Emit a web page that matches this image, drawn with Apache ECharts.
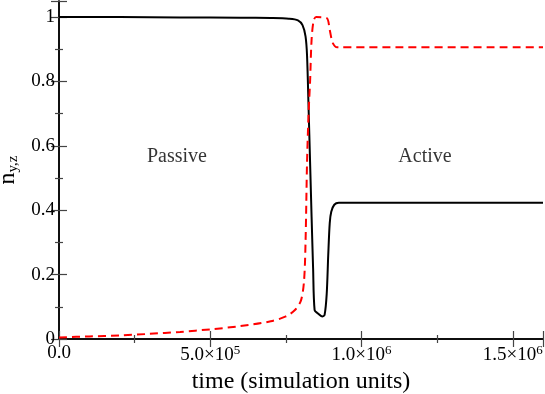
<!DOCTYPE html>
<html>
<head>
<meta charset="utf-8">
<script src="https://cdn.jsdelivr.net/npm/echarts@6/dist/echarts.min.js"></script>
<style>
html, body { margin: 0; padding: 0; background: #fff; }
#container { width: 545px; height: 394px; }
</style>
</head>
<body>
<div id="container"></div>
<script>
// black: n_y, red dashed: n_z
var timeY = [0, 2e5, 4e5, 6e5, 7e5, 7.6e5, 7.9e5, 8.05e5, 8.15e5, 8.2e5, 8.25e5, 8.3e5, 8.35e5, 8.4e5, 8.45e5, 8.55e5, 8.7e5, 8.78e5, 8.85e5, 8.9e5, 8.95e5, 9.0e5, 9.1e5, 9.25e5, 1.6e6];
var valY  = [1.0, 1.0, 0.999, 0.998, 0.997, 0.995, 0.99, 0.975, 0.94, 0.88, 0.72, 0.55, 0.38, 0.22, 0.09, 0.08, 0.07, 0.075, 0.14, 0.26, 0.36, 0.395, 0.417, 0.423, 0.423];
var timeZ = [0, 1e5, 2e5, 3e5, 4e5, 5e5, 6e5, 7e5, 7.5e5, 7.8e5, 8.0e5, 8.1e5, 8.15e5, 8.2e5, 8.25e5, 8.3e5, 8.35e5, 8.42e5, 8.5e5, 8.85e5, 8.95e5, 9.05e5, 9.2e5, 1.6e6];
var valZ  = [0.005, 0.008, 0.011, 0.016, 0.022, 0.03, 0.04, 0.055, 0.07, 0.09, 0.12, 0.18, 0.3, 0.55, 0.7, 0.8, 0.93, 0.99, 1.0, 0.997, 0.96, 0.92, 0.906, 0.906];
var labels = [{x: 3.9e5, y: 0.565, text: 'Passive'}, {x: 12.1e5, y: 0.565, text: 'Active'}];

function pairs(xs, ys) {
  return xs.map(function (x, i) { return [x, ys[i]]; });
}

var font = 'Liberation Serif';
var chart = echarts.init(document.getElementById('container'));

function xLabel(v) {
  if (v === 0) return '0.0';
  var e = Math.floor(Math.log10(v) + 1e-9);
  var m = (v / Math.pow(10, e)).toFixed(1);
  return m + '×10{sup|' + e + '}';
}

var axisCommon = {
  axisLine: { lineStyle: { color: '#000', width: 1.5 } },
  axisTick: { inside: true, length: 8, lineStyle: { color: '#444', width: 1.2 } },
  minorTick: { show: true, splitNumber: 2, length: 4, lineStyle: { color: '#444', width: 1.2 } },
  splitLine: { show: false }
};

chart.setOption({
  animation: false,
  grid: { left: 59, right: 2, top: 1, bottom: 55, containLabel: false, outerBoundsMode: 'none' },
  xAxis: [
    Object.assign({
      type: 'value', min: 0, max: 1.6e6, interval: 5e5,
      name: 'time (simulation units)', nameLocation: 'middle', nameGap: 27,
      nameTextStyle: { fontFamily: font, fontSize: 24, color: '#000' },
      axisLabel: {
        formatter: xLabel, fontFamily: font, fontSize: 19, color: '#000', margin: 5,
        rich: { sup: { fontFamily: font, fontSize: 13, verticalAlign: 'top', padding: [0, 0, 10, 0] } }
      }
    }, axisCommon),
    Object.assign({
      type: 'value', min: 0, max: 1.6e6, interval: 5e5, position: 'top',
      axisLabel: { show: false }
    }, axisCommon)
  ],
  yAxis: [
    Object.assign({
      type: 'value', min: 0, max: 1.05, interval: 0.2,
      name: '{n|n}{s|y,z}', nameLocation: 'middle', nameGap: 38, nameRotate: 90,
      nameTextStyle: {
        color: '#000',
        rich: {
          n: { fontFamily: font, fontSize: 24, color: '#000' },
          s: { fontFamily: font, fontSize: 15, color: '#000', verticalAlign: 'bottom', padding: [10, 0, 0, 0] }
        }
      },
      axisLabel: {
        fontFamily: font, fontSize: 19, color: '#000', margin: 4,
        showMaxLabel: false,
        formatter: function (v) { return v === 0 || v === 1 ? String(v) : v.toFixed(1); }
      }
    }, axisCommon),
    Object.assign({
      type: 'value', min: 0, max: 1.05, interval: 0.2, position: 'right',
      axisLabel: { show: false }
    }, axisCommon)
  ],
  series: [
    {
      type: 'line', data: pairs(timeY, valY), showSymbol: false, symbol: 'none', smooth: 0.3,
      lineStyle: { color: '#000', width: 2 }, z: 3
    },
    {
      type: 'line', data: pairs(timeZ, valZ), showSymbol: false, symbol: 'none', smooth: 0.3,
      lineStyle: { color: '#ff0000', width: 2, type: [8, 5] }, z: 4
    },
    {
      type: 'scatter', data: labels.map(function (l) { return [l.x, l.y, l.text]; }),
      symbolSize: 0, silent: true,
      label: {
        show: true, position: 'inside', formatter: function (p) { return p.data[2]; },
        fontFamily: font, fontSize: 20, color: '#000'
      }
    }
  ]
});
</script>
</body>
</html>
